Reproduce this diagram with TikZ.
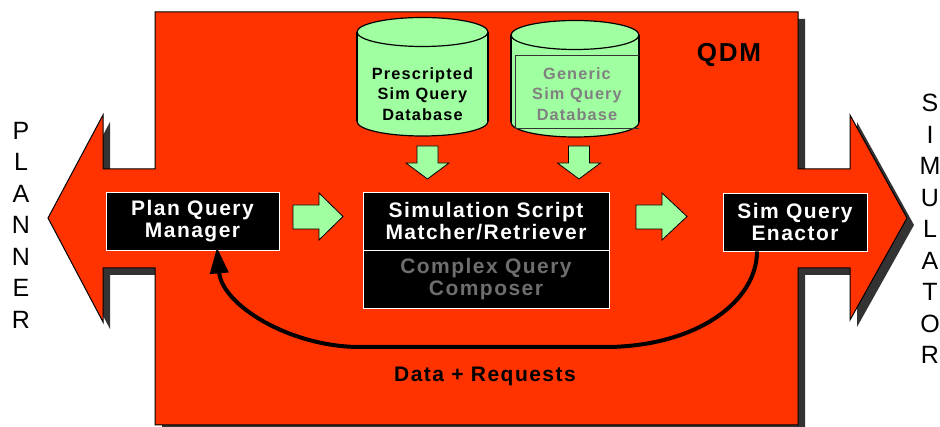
\documentclass[tikz,border=0pt]{standalone}
\usepackage{fontspec}
\setmainfont{Liberation Sans}
\newfontfamily\lsp{Liberation Sans}[LetterSpace=7]
\usetikzlibrary{arrows.meta}
\definecolor{qred}{RGB}{255,51,0}
\definecolor{qgreen}{RGB}{160,255,160}
\definecolor{qshadow}{RGB}{51,51,51}
\definecolor{qgray}{RGB}{128,128,128}
\definecolor{qdgray}{RGB}{110,110,110}
\tikzset{
  box/.style={draw=white, line width=0.8pt, fill=black, text=white, align=center, inner sep=0pt,
    font=\lsp\bfseries\fontsize{21}{22}\selectfont},
  dbtext/.style={align=center, inner sep=0pt, font=\lsp\bfseries\fontsize{16.3}{20.5}\selectfont},
  blockarrow/.style={fill=qgreen, draw=black, line width=0.8pt},
  cylfill/.style={fill=qgreen},
  cylline/.style={draw=black, line width=1.2pt},
  sidetext/.style={align=center, inner sep=0pt, font=\fontsize{25}{31.5}\selectfont},
}
\begin{document}
\begin{tikzpicture}[x=1pt,y=-1pt]
\useasboundingbox (0,0) rectangle (940,427);
% shadow of the main shape
\fill[qshadow, shift={(7,7)}]
  (155,12) -- (798,12) -- (798,169) -- (850,169) -- (850,115) -- (907,218) -- (850,320)
  -- (850,268) -- (798,268) -- (798,425) -- (155,425) -- (155,268) -- (103,268)
  -- (103,322) -- (48,218) -- (103,115) -- (103,169) -- (155,169) -- cycle;
% main red shape
\filldraw[fill=qred, draw=black, line width=1pt]
  (155,12) -- (798,12) -- (798,169) -- (850,169) -- (850,115) -- (907,218) -- (850,320)
  -- (850,268) -- (798,268) -- (798,425) -- (155,425) -- (155,268) -- (103,268)
  -- (103,322) -- (48,218) -- (103,115) -- (103,169) -- (155,169) -- cycle;

% side labels
\node[sidetext] (planner) at (21,225) {P\\L\\A\\N\\N\\E\\R};
\node[sidetext] (simulator) at (930,229) {S\\I\\M\\U\\L\\A\\T\\O\\R};

% QDM
\node[font=\lsp\bfseries\fontsize{26}{28}\selectfont, inner sep=0pt] (qdm) at (729,55) {QDM};

% cylinder 1
\fill[cylfill] (357,32) rectangle (488,121.5);
\fill[cylfill] (422.5,121.5) ellipse [x radius=65.5, y radius=14.5];
\begin{scope}
  \clip (350,121.5) rectangle (495,142);
  \draw[cylline] (422.5,121.5) ellipse [x radius=65.5, y radius=14.5];
\end{scope}
\draw[cylline] (357,32) -- (357,121.5) (488,32) -- (488,121.5);
\filldraw[fill=qgreen, cylline] (422.5,32) ellipse [x radius=65.5, y radius=14.5];
\node[dbtext] (presc) at (422.5,94) {Prescripted\\Sim Query\\Database};

% cylinder 2
\fill[cylfill] (511,35) rectangle (639,122.5);
\fill[cylfill] (575,122.5) ellipse [x radius=64, y radius=14.5];
\begin{scope}
  \clip (505,122.5) rectangle (645,142);
  \draw[cylline] (575,122.5) ellipse [x radius=64, y radius=14.5];
\end{scope}
\draw[cylline] (511,35) -- (511,122.5) (639,35) -- (639,122.5);
\filldraw[fill=qgreen, cylline] (575,35) ellipse [x radius=64, y radius=14.5];
\draw[qshadow, line width=0.6pt] (639,55) -- (515,55) -- (515,128) -- (639,128);
\node[dbtext, text=qgray] (generic) at (577,94) {Generic\\Sim Query\\Database};

% down arrows
\filldraw[blockarrow] (417,146) -- (438,146) -- (438,163) -- (449,163) -- (427.5,179) -- (406,163) -- (417,163) -- cycle;
\filldraw[blockarrow] (568.5,146) -- (589.5,146) -- (589.5,163) -- (600.5,163) -- (579,179) -- (557.5,163) -- (568.5,163) -- cycle;

% right arrows
\filldraw[blockarrow] (293,205) -- (319,205) -- (319,193) -- (343,216.5) -- (319,240) -- (319,229) -- (293,229) -- cycle;
\filldraw[blockarrow] (636,205) -- (662,205) -- (662,193) -- (687,216.5) -- (662,240) -- (662,229) -- (636,229) -- cycle;

% boxes
\node[box, minimum width=173pt, minimum height=58pt] (pqm) at (192.5,221) {Plan Query\\Manager};
\node[box, minimum width=246pt, minimum height=58pt] (ssm) at (486,221) {Simulation Script\\Matcher/Retriever};
\node[box, minimum width=246pt, minimum height=58pt, text=qdgray] (cqc) at (486,279) {Complex Query\\Composer};
\node[box, minimum width=144pt, minimum height=58pt] (enactor) at (795,222) {Sim Query\\Enactor};

% return curve
\draw[line width=4pt, -{Triangle[length=26pt, width=18pt]}]
  ([xshift=-38pt]enactor.south) .. controls (757,300) and (700,345) .. (610,347)
  -- (360,347) .. controls (290,347) and (222,305) .. ([xshift=24.5pt, yshift=3pt]pqm.south);

\node[font=\lsp\bfseries\fontsize{21}{22}\selectfont, inner sep=0pt] (datareq) at (485,376) {Data + Requests};
\end{tikzpicture}
\end{document}
